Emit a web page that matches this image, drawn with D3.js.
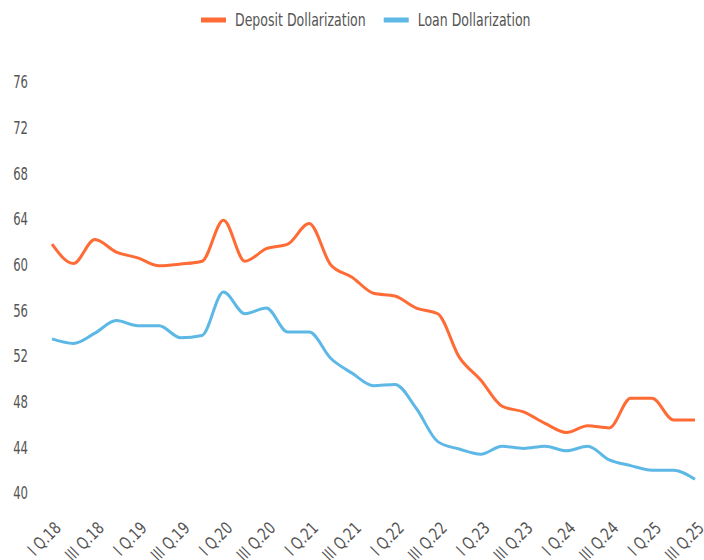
<!DOCTYPE html>
<html>
<head>
<meta charset="utf-8">
<script src="https://cdn.jsdelivr.net/npm/d3@7"></script>
<style>
  body { margin: 0; background: #fff; }
  svg { font-family: "DejaVu Sans Condensed", "Liberation Sans", sans-serif; }
</style>
</head>
<body>
<div id="chart"></div>
<script>
// quarters Q1 2018 .. Q3 2025
const quarters = [];
for (let y = 18; y <= 25; y++) {
  ["I", "II", "III", "IV"].forEach(q => {
    if (!(y === 25 && q === "IV")) quarters.push(`${q} Q.${y}`);
  });
}

const deposit = [61.8, 60.1, 62.2, 61.1, 60.6, 59.9, 60.05, 60.3, 63.9, 60.3,
  61.4, 61.8, 63.6, 60.0, 58.9, 57.5, 57.25, 56.2, 55.7, 51.9,
  49.9, 47.6, 47.1, 46.1, 45.3, 45.9, 45.7, 48.3, 48.3, 46.4, 46.4];

const loan = [53.5, 53.1, 54.0, 55.1, 54.65, 54.65, 53.6, 53.8, 57.6, 55.7,
  56.2, 54.1, 54.1, 51.8, 50.5, 49.4, 49.5, 47.4, 44.5, 43.85,
  43.4, 44.1, 43.9, 44.1, 43.7, 44.1, 42.9, 42.4, 42.0, 42.0, 41.2];

const yTicks = [40, 44, 48, 52, 56, 60, 64, 68, 72, 76];

const series = [
  { name: "Deposit Dollarization", values: deposit, color: "#ff6b35" },
  { name: "Loan Dollarization", values: loan, color: "#5db8e6" }
];

const width = 704, height = 560;

const svg = d3.select("#chart").append("svg")
  .attr("width", width)
  .attr("height", height);

const x = d3.scalePoint().domain(quarters).range([52, 695]);
const y = d3.scaleLinear().domain([40, 76]).range([493, 82]);

// y axis labels (font squeezed to look like the condensed original)
svg.append("g")
  .selectAll("text")
  .data(yTicks)
  .enter().append("text")
  .attr("transform", d => `translate(28,${y(d)}) scale(0.72,1)`)
  .attr("dy", "0.36em")
  .attr("text-anchor", "end")
  .attr("fill", "#555")
  .style("font-size", "18px")
  .text(d => d);

// x axis labels, every second quarter
svg.append("g")
  .selectAll("text")
  .data(quarters.filter((d, i) => i % 2 === 0))
  .enter().append("text")
  .attr("transform", d => `translate(${x(d) + 6},${525}) rotate(-45) scale(0.85,1)`)
  .attr("dy", "0.35em")
  .attr("text-anchor", "end")
  .attr("fill", "#555")
  .style("font-size", "17px")
  .text(d => d);

const line = d3.line()
  .x((d, i) => x(quarters[i]))
  .y(d => y(d))
  .curve(d3.curveMonotoneX);

svg.selectAll(".series")
  .data(series)
  .enter().append("path")
  .attr("fill", "none")
  .attr("stroke", d => d.color)
  .attr("stroke-width", 3)
  .attr("stroke-linejoin", "round")
  .attr("d", d => line(d.values));

// legend
const legend = svg.append("g").attr("transform", "translate(201,20)");
let lx = 0;
series.forEach(s => {
  const g = legend.append("g").attr("transform", `translate(${lx},0)`);
  g.append("line")
    .attr("x1", 0).attr("x2", 25)
    .attr("stroke", s.color)
    .attr("stroke-width", 5);
  const t = g.append("text")
    .attr("transform", "translate(34,0) scale(0.82,1)")
    .attr("dy", "0.36em")
    .attr("fill", "#555")
    .style("font-size", "17px")
    .text(s.name);
  lx += 34 + t.node().getComputedTextLength() * 0.82 + 18;
});
</script>
</body>
</html>
